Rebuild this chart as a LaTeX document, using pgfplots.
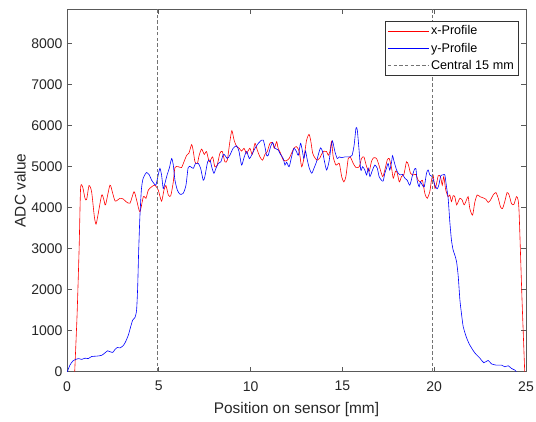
\documentclass[border=0pt]{standalone}
\usepackage{pgfplots}
\pgfplotsset{compat=1.18}
\usepackage{fontspec}
\setmainfont{Liberation Sans}
\definecolor{axgray}{gray}{0.15}
\begin{document}
\begin{tikzpicture}
\useasboundingbox (-67pt,-49.3pt) rectangle (469pt,371.7pt);
\begin{axis}[
  scale only axis,
  width=459pt, height=362.4pt,
  xmin=0, xmax=25, ymin=0, ymax=8840,
  xtick={0,5,...,25}, ytick={0,1000,...,8000},
  tick align=inside, major tick length=4.7pt,
  axis line style={black!65, line width=0.6pt},
  tick style={black!65, line width=0.6pt},
  every tick label/.append style={font=\fontsize{14}{16}\selectfont, text=axgray},
  /pgf/number format/assume math mode=true,
  /pgf/number format/1000 sep={},
  xticklabel style={yshift=-6pt},
  yticklabel style={xshift=-1pt},
  xlabel={Position on sensor [mm]},
  ylabel={ADC value},
  every axis x label/.style={at={(rel axis cs:0.5,0)}, yshift=-41.3pt, anchor=base,
     font=\fontsize{15.4}{17}\selectfont, text=axgray},
  every axis y label/.style={at={(rel axis cs:0,0.5)}, xshift=-47pt, anchor=center, rotate=90,
     font=\fontsize{15.4}{17}\selectfont, text=axgray},
  legend cell align=left,
  legend style={at={(axis description cs:0.9826,0.9688)}, anchor=north east,
    draw=black!80, line width=0.5pt, fill=white,
    font=\fontsize{12.6}{14}\selectfont, text=black,
    inner xsep=2pt, inner ysep=3pt, row sep=2.5pt},
  legend image code/.code={\draw[#1] (0pt,0pt) -- (41pt,0pt);},
]
\addplot[red, line width=0.6pt, smooth, tension=0.4] coordinates {
(0.42,0) (0.55,1400) (0.66,3000) (0.74,4470) (0.85,4510) (0.98,4230) (1.07,4200) (1.2,4540) (1.34,4390) (1.49,3780) (1.58,3600) (1.67,3780) (1.89,4310) (2.01,4190) (2.1,4070) (2.34,4550) (2.49,4350) (2.63,4160) (2.89,4230) (3.07,4210) (3.21,4150) (3.43,4110) (3.65,4390) (3.79,4190) (3.97,3900) (4.16,4270) (4.3,4230) (4.43,4430) (4.61,4510) (4.79,4550) (4.97,4430) (5.15,4160) (5.28,4430) (5.39,4540) (5.52,4310) (5.65,4290) (5.79,4630) (5.88,4980) (6.06,5000) (6.24,4980) (6.37,5120) (6.52,5280) (6.64,5330) (6.79,5540) (6.88,5370) (6.97,5120) (7.1,5080) (7.2,5280) (7.33,5430) (7.48,5300) (7.6,5370) (7.75,5120) (7.93,5240) (8.05,5000) (8.18,5040) (8.33,5330) (8.46,5370) (8.6,5120) (8.73,5160) (8.87,5610) (8.98,5880) (9.1,5650) (9.24,5490) (9.38,5450) (9.51,5380) (9.64,5450) (9.78,5330) (9.96,5450) (10.09,5300) (10.24,5570) (10.36,5410) (10.51,5240) (10.65,5160) (10.78,5300) (10.91,5370) (11.05,5570) (11.2,5590) (11.29,5450) (11.42,5610) (11.5,5450) (11.63,5330) (11.78,5160) (11.92,5140) (12.1,5200) (12.23,5330) (12.36,5450) (12.5,5490) (12.65,5370) (12.78,5000) (12.9,5200) (13.05,5650) (13.18,5790) (13.27,5650) (13.38,5330) (13.5,5220) (13.63,5160) (13.78,5220) (13.86,5300) (13.99,5380) (14.14,5370) (14.23,5280) (14.32,5370) (14.41,5610) (14.5,5240) (14.65,5040) (14.83,5080) (14.96,4760) (15.08,4630) (15.19,4760) (15.32,5200) (15.45,5220) (15.59,5080) (15.74,4980) (15.92,5000) (16.04,5200) (16.17,5240) (16.32,5000) (16.46,4890) (16.59,5140) (16.71,5220) (16.86,5200) (16.99,5040) (17.19,4760) (17.31,4920) (17.44,5160) (17.55,5200) (17.68,4960) (17.77,4720) (17.89,4890) (17.98,4860) (18.1,4630) (18.22,4760) (18.35,4810) (18.49,5120) (18.6,5040) (18.71,4840) (18.86,4800) (19.0,4810) (19.13,4670) (19.26,4630) (19.36,4670) (19.49,4350) (19.62,4230) (19.76,4390) (19.85,4670) (19.94,4800) (20.04,4470) (20.13,4590) (20.22,4780) (20.34,4760) (20.44,4550) (20.52,4760) (20.63,4430) (20.76,4270) (20.85,4310) (20.94,4150) (21.03,4290) (21.12,4270) (21.22,4070) (21.31,4150) (21.4,4230) (21.52,4190) (21.63,4070) (21.76,4190) (21.85,4270) (21.94,3980) (22.09,3820) (22.21,4130) (22.34,4310) (22.49,4270) (22.67,4240) (22.81,4210) (22.94,4130) (23.07,4190) (23.21,4310) (23.36,4370) (23.49,4230) (23.61,4020) (23.72,3980) (23.85,4160) (23.97,4370) (24.08,4310) (24.21,4100) (24.34,4080) (24.48,4270) (24.57,4190) (24.63,3820) (24.78,1800) (24.93,0)
};
\addlegendentry{x-Profile}
\addplot[blue, line width=0.6pt, smooth, tension=0.4] coordinates {
(0.02,0) (0.16,160) (0.34,270) (0.62,320) (0.8,300) (0.98,330) (1.16,320) (1.34,370) (1.62,380) (1.89,400) (2.07,460) (2.21,510) (2.34,490) (2.49,470) (2.61,540) (2.74,590) (2.89,580) (3.07,640) (3.19,730) (3.34,890) (3.47,1100) (3.58,1260) (3.7,1320) (3.79,1500) (3.85,2070) (3.9,2890) (3.97,3780) (4.05,4430) (4.12,4670) (4.19,4760) (4.33,4860) (4.48,4800) (4.61,4670) (4.74,4590) (4.84,4550) (4.97,4800) (5.06,4960) (5.15,4800) (5.24,4470) (5.33,4590) (5.46,4810) (5.57,4960) (5.7,5200) (5.79,5040) (5.88,4670) (6.01,4430) (6.15,4330) (6.33,4350) (6.48,4550) (6.6,4980) (6.73,5000) (6.88,4960) (7.0,5080) (7.15,5080) (7.28,4960) (7.42,4670) (7.51,4760) (7.66,5120) (7.79,5160) (7.88,5000) (8.0,4840) (8.11,4960) (8.24,5080) (8.38,5120) (8.51,5300) (8.6,5280) (8.73,5200) (8.87,5280) (9.05,5450) (9.24,5510) (9.37,5370) (9.51,5040) (9.64,5220) (9.78,5370) (9.93,5200) (10.05,5280) (10.24,5450) (10.42,5570) (10.6,5650) (10.69,5650) (10.78,5490) (10.87,5280) (10.96,5280) (11.09,5490) (11.2,5590) (11.33,5450) (11.5,5410) (11.63,5300) (11.78,5200) (11.87,5040) (11.96,5110) (12.1,5000) (12.23,5240) (12.36,5450) (12.5,5370) (12.6,5280) (12.72,5570) (12.81,5410) (12.9,5200) (12.99,5380) (13.09,5160) (13.2,4960) (13.33,4840) (13.45,4960) (13.59,5120) (13.68,5280) (13.81,5460) (13.92,5370) (14.01,5160) (14.14,4920) (14.27,5120) (14.37,5450) (14.46,5630) (14.59,5370) (14.72,5200) (14.83,5240) (14.96,5220) (15.14,5240) (15.41,5240) (15.53,5280) (15.64,5530) (15.74,5940) (15.81,5900) (15.9,5450) (16.0,4920) (16.1,5000) (16.22,4920) (16.32,4800) (16.41,4960) (16.5,4760) (16.64,4920) (16.77,5040) (16.9,4960) (17.0,4760) (17.13,4670) (17.22,4650) (17.31,4840) (17.4,4960) (17.49,5080) (17.58,4920) (17.68,5120) (17.73,5270) (17.82,5120) (17.95,4920) (18.04,4840) (18.13,4800) (18.28,4810) (18.4,4720) (18.53,4670) (18.67,4550) (18.8,4760) (18.91,4920) (19.0,4960) (19.07,4670) (19.18,4510) (19.25,4630) (19.36,4550) (19.46,4510) (19.58,4840) (19.67,4920) (19.76,4800) (19.89,4760) (20.04,4550) (20.16,4460) (20.25,4550) (20.36,4780) (20.49,4800) (20.58,4800) (20.67,4510) (20.76,4230) (20.85,3660) (20.94,3210) (21.03,2970) (21.12,2850) (21.22,2680) (21.31,2320) (21.4,1750) (21.49,1400) (21.58,1100) (21.76,830) (21.94,650) (22.21,460) (22.49,330) (22.7,220) (22.94,275) (23.12,190) (23.39,160) (23.67,160) (23.85,120) (24.03,145) (24.21,80) (24.39,40) (24.47,0)
};
\addlegendentry{y-Profile}
\addplot[black!55, line width=0.6pt, dash pattern=on 3.5pt off 2.2pt] coordinates {(4.9,0) (4.9,8840)};
\addlegendentry{Central 15 mm}
\addplot[black!55, line width=0.6pt, dash pattern=on 3.5pt off 2.2pt, forget plot] coordinates {(19.9,0) (19.9,8840)};
\end{axis}
\end{tikzpicture}
\end{document}
